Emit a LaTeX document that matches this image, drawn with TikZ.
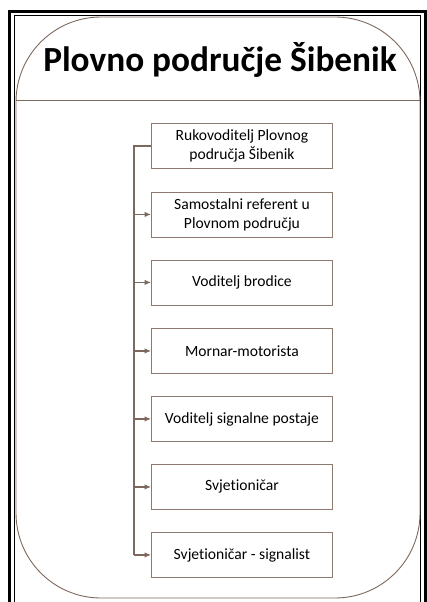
\documentclass[tikz,border=0pt]{standalone}
\usepackage{fontspec}
\setmainfont[Ligatures=NoCommon]{Carlito}
\usetikzlibrary{arrows.meta}
\definecolor{linebrown}{RGB}{125,104,94}
\definecolor{boxbrown}{RGB}{140,122,112}
\begin{document}
\begin{tikzpicture}[x=1pt,y=-1pt,
  rolebox/.style={draw=boxbrown,line width=0.9pt,minimum width=181pt,minimum height=45pt,
    inner sep=2pt,align=center,anchor=north west,font=\fontsize{15.6}{19}\selectfont},
  feed/.style={draw=linebrown,line width=1.1pt},
  feedarrow/.style={feed,-{Latex[length=6.5pt,width=5.5pt]}}]
\useasboundingbox (0,0) rectangle (427,602);
\fill[white] (0,0) rectangle (427,602);
% double page frame, open at the bottom
\draw[line width=3pt] (9.5,602) -- (9.5,11.5) -- (425.5,11.5) -- (425.5,602);
\draw[line width=0.8pt] (14.5,602) -- (14.5,15.5) -- (420.5,15.5) -- (420.5,602);
% rounded panel with title band
\draw[draw=linebrown,line width=0.9pt,rounded corners=85pt] (16,17) rectangle (420,598);
\draw[draw=linebrown,line width=0.9pt] (16,100) -- (420,100);
\node[font=\fontsize{35.3}{42}\bfseries\selectfont] (title) at (220,60) {Plovno područje Šibenik};
% role boxes
\node[rolebox] (r1) at (151,123) {Rukovoditelj Plovnog\\područja Šibenik};
\node[rolebox] (r2) at (151,191.5) {Samostalni referent u\\Plovnom području};
\node[rolebox] (r3) at (151,259.5) {Voditelj brodice};
\node[rolebox] (r4) at (151,328) {Mornar-motorista};
\node[rolebox] (r5) at (151,396) {Voditelj signalne postaje};
\node[rolebox] (r6) at (151,464) {Svjetioničar};
\node[rolebox] (r7) at (151,532) {Svjetioničar - signalist};
% hierarchy line
\coordinate (spine) at (134,0);
\draw[feed] (r1.west) -- (r1.west -| spine) -- (r7.west -| spine);
\foreach \n in {r2,r3,r4,r5,r6,r7}
  \draw[feedarrow] (\n.west -| spine) -- (\n.west);
\end{tikzpicture}
\end{document}
